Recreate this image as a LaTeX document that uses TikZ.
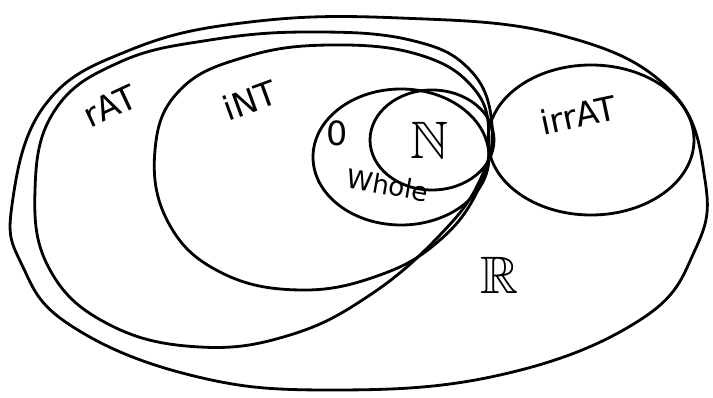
\documentclass[tikz,border=0pt]{standalone}
\usepackage{amsmath,amssymb}
\usepackage{fontspec}
\setsansfont{DejaVu Sans}

\begin{document}
\begin{tikzpicture}[x=0.02cm, y=-0.02cm]
\tikzset{setline/.style={color=black, line width=1.6pt},
         setname/.style={inner sep=0pt, font=\sffamily\fontsize{19}{21}\selectfont}}
\useasboundingbox (0,0) rectangle (713,398);
% real numbers
\draw [setline] plot[smooth cycle, tension=0.7] coordinates {(12,205) (45,105) (130,50) (250,22) (400,18) (560,35) (670,90) (705,180) (695,250) (640,320) (500,375) (330,390) (190,375) (70,325) (22,265)};
% rationals
\draw [setline] plot[smooth cycle, tension=0.7] coordinates {(35,190) (55,110) (120,62) (210,40) (310,32) (410,40) (470,70) (492,125) (480,180) (440,235) (370,295) (290,335) (200,347) (110,325) (50,270)};
% integers
\draw [setline] plot[smooth cycle, tension=0.7] coordinates {(155,150) (180,90) (245,57) (330,45) (420,55) (475,90) (489,140) (478,190) (440,240) (380,275) (300,290) (220,272) (168,222)};
% whole and natural numbers
\draw [setline] (401,157) ellipse (88 and 68);
\draw [setline] (432,140) ellipse (62 and 50);
% irrationals
\draw [setline] (591,140) ellipse (103 and 75);
\node [setname, rotate=25] (rat) at (110,106) {rAT};
\node [setname, rotate=20] (int) at (250,100) {iNT};
\node [setname] (zero) at (337,133) {0};
\node [setname, font=\fontsize{30}{32}\selectfont] (nat) at (430,140) {$\mathbb{N}$};
\node [setname, font=\sffamily\fontsize{15}{17}\selectfont, rotate=-10] (whole) at (388,185) {Whole};
\node [setname, rotate=12] (irrat) at (578,115) {irrAT};
\node [setname, font=\fontsize{30}{32}\selectfont] (real) at (500,275) {$\mathbb{R}$};
\end{tikzpicture}
\end{document}
